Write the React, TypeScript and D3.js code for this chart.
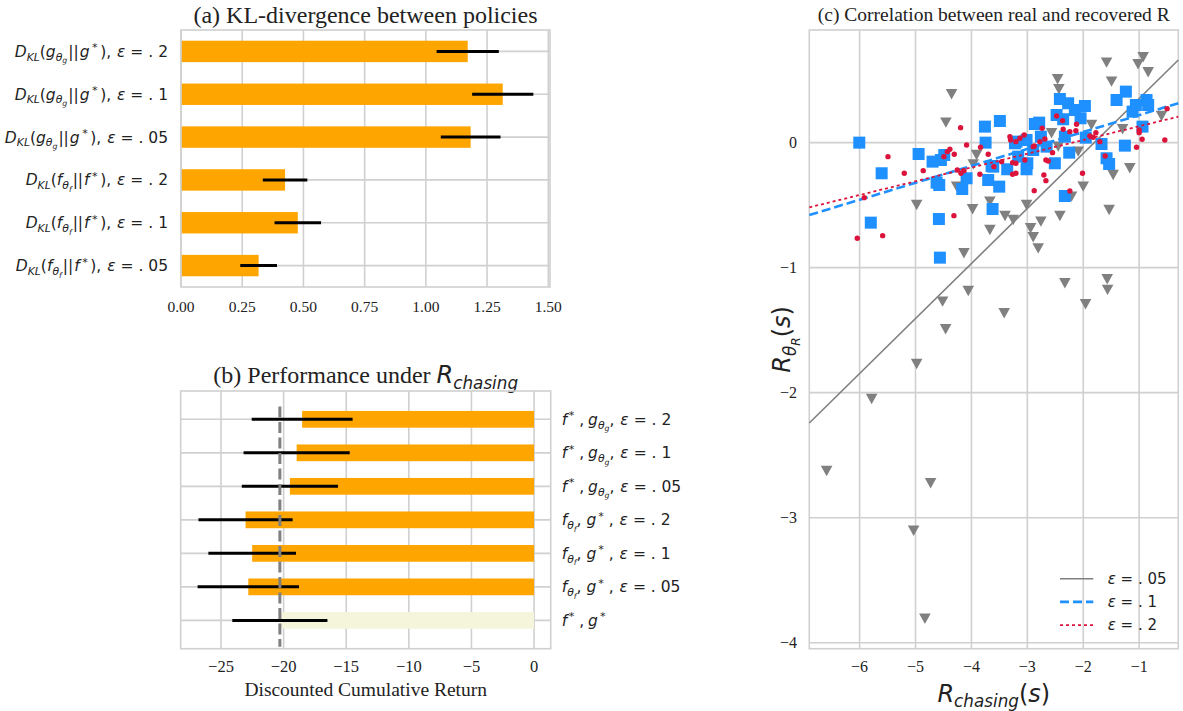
import React from 'react';
import * as d3 from 'd3';

type Seg = [string, number, boolean?, number?]; // text, level (0 base, -1 sub, -2 subsub, 1 sup), italic, dx

const SERIF = '"Liberation Serif", "Times New Roman", serif';
const SANS = '"DejaVu Sans", sans-serif';
const INK = '#222';
const GRID = '#d0d0d0';

// ---- helpers for mathtext-like labels ----
const eps = (v: string): Seg[] => [['ε', 0, true, 1], [' = . ' + v, 0]];
const dklG = (v: string): Seg[] => [['D', 0, true], ['KL', -1, true], ['(', 0], ['g', 0, true], ['θ', -1, true], ['g', -2, true], ['||', 0, false, 1], ['g', 0, true, 1], ['*', 1, false, 2.5], [')', 0, false, 2.5], [', ', 0], ...eps(v)];
const dklF = (v: string): Seg[] => [['D', 0, true], ['KL', -1, true], ['(', 0], ['f', 0, true], ['θ', -1, true], ['f', -2, true], ['||', 0, false, 1], ['f', 0, true, 1], ['*', 1, false, 2.5], [')', 0, false, 2.5], [', ', 0], ...eps(v)];
const fStarGTheta = (v: string): Seg[] => [['f', 0, true], ['*', 1, false, 1.5], [' ,', 0], ['g', 0, true, 4], ['θ', -1, true], ['g', -2, true], [', ', 0], ...eps(v)];
const fThetaGStar = (v: string): Seg[] => [['f', 0, true], ['θ', -1, true], ['f', -2, true], [', ', 0], ['g', 0, true], ['*', 1, false, 2], [' , ', 0], ...eps(v)];

// ---- (a) KL-divergence data ----
const klLabels: Seg[][] = [dklG('2'), dklG('1'), dklG('05'), dklF('2'), dklF('1'), dklF('05')];
const klMeans = [1.171, 1.314, 1.183, 0.425, 0.477, 0.317];
const klErrors = [0.127, 0.125, 0.122, 0.091, 0.095, 0.075];
const klTicks = [0, 0.25, 0.5, 0.75, 1.0, 1.25, 1.5];

// ---- (b) performance data ----
const perfLabels: Seg[][] = [
  fStarGTheta('2'), fStarGTheta('1'), fStarGTheta('05'),
  fThetaGStar('2'), fThetaGStar('1'), fThetaGStar('05'),
  [['f', 0, true], ['*', 1, false, 1.5], [' ,', 0], ['g', 0, true, 4], ['*', 1, false, 2]],
];
const perfMeans = [-18.52, -18.96, -19.5, -23.04, -22.51, -22.82, -20.3];
const perfErrors = [4.03, 4.24, 3.84, 3.76, 3.5, 4.05, 3.8];
const perfColors = ['orange', 'orange', 'orange', 'orange', 'orange', 'orange', '#f5f5dc'];
const perfTicks = [-25, -20, -15, -10, -5, 0];

// ---- (c) scatter data ----
const eps05Points: [number, number][] = [
  [-4.355, 0.387], [-4.457, 0.16], [-2.459, 0.507], [-2.436, 0.427], [-1.583, 0.64], [-1.494, 0.488],
  [-0.929, 0.683], [-1.02, 0.627], [-0.839, 0.563], [-0.6, 0.213], [-2.567, 0.075], [-3.908, -0.099],
  [-3.967, -0.174], [-1.852, 0.141], [-1.297, 0.107], [-2.448, -0.032], [-2.09, -0.072], [-1.465, -0.259],
  [-1.167, -0.205], [-4.98, -0.499], [-4.265, -0.352], [-3.98, -0.533], [-3.67, -0.472], [-3.67, -0.699],
  [-3.4, -0.587], [-3.253, -0.619], [-3.014, -0.499], [-2.942, -0.685], [-2.895, -0.757], [-2.806, -0.846],
  [-2.758, -0.632], [-2.418, -0.587], [-2.209, -0.432], [-2.001, -0.352], [-1.537, -0.539], [-4.134, -0.885],
  [-4.057, -1.187], [-4.516, -1.272], [-4.462, -1.493], [-3.414, -1.365], [-2.329, -1.125], [-1.959, -1.293],
  [-1.572, -1.093], [-1.565, -1.178], [-4.98, -1.771], [-5.785, -2.051], [-6.59, -2.627], [-4.73, -2.725],
  [-5.034, -3.104], [-4.832, -3.808],
];
const eps1Points: [number, number][] = [
  [-6.006, 0.0], [-5.606, -0.245], [-5.8, -0.64], [-4.945, -0.091], [-4.695, -0.152], [-4.546, -0.139],
  [-4.486, -0.099], [-4.623, -0.32], [-4.576, -0.339], [-4.582, -0.611], [-4.564, -0.92], [-4.164, -0.371],
  [-4.087, -0.285], [-3.759, 0.128], [-3.747, 0.0], [-3.7, -0.299], [-3.64, -0.187], [-3.622, -0.531],
  [-3.503, -0.352], [-3.491, 0.173], [-3.36, -0.213], [-3.222, -0.005], [-3.014, 0.021], [-3.014, -0.213],
  [-3.0, -0.165], [-2.865, 0.149], [-2.788, 0.16], [-2.758, 0.048], [-2.656, -0.032], [-2.895, -0.059],
  [-3.163, -0.112], [-3.192, 0.008], [-2.508, -0.165], [-2.477, 0.221], [-2.418, 0.349], [-2.27, 0.315],
  [-2.15, 0.261], [-2.048, 0.195], [-1.971, 0.293], [-2.359, 0.187], [-2.329, 0.048], [-2.251, -0.08],
  [-1.955, 0.04], [-1.673, -0.011], [-1.583, -0.125], [-1.537, -0.171], [-1.404, 0.341], [-1.238, 0.408],
  [-1.118, 0.248], [-1.059, 0.301], [-0.868, 0.341], [-0.839, 0.301], [-0.94, 0.128], [-1.256, -0.024],
  [-2.329, -0.427], [-3.61, -0.192],
];
const eps2Points: [number, number][] = [
  [-5.493, -0.112], [-5.201, -0.245], [-4.862, -0.224], [-5.917, -0.44], [-6.042, -0.765], [-5.588, -0.744],
  [-4.313, -0.584], [-4.194, 0.12], [-4.087, -0.019], [-3.837, -0.037], [-3.7, -0.093], [-3.598, -0.192],
  [-3.849, -0.253], [-4.492, -0.112], [-4.432, -0.072], [-4.385, -0.053], [-4.307, -0.093], [-4.253, -0.219],
  [-4.188, -0.245], [-4.134, -0.224], [-2.477, 0.213], [-2.37, 0.176], [-2.12, 0.147], [-2.359, 0.107],
  [-2.24, 0.088], [-2.132, 0.096], [-2.735, 0.115], [-2.686, 0.029], [-2.776, 0.008], [-2.895, -0.032],
  [-3.056, 0.061], [-3.133, 0.035], [-3.205, 0.008], [-3.312, 0.048], [-3.3, 0.021], [-3.46, -0.152],
  [-3.264, -0.16], [-3.205, -0.165], [-3.264, -0.253], [-3.205, -0.245], [-3.044, -0.139], [-2.877, -0.384],
  [-2.704, -0.259], [-2.668, -0.304], [-2.668, -0.139], [-2.627, -0.147], [-2.549, -0.08], [-2.877, -0.027],
  [-2.24, -0.387], [-2.013, -0.245], [-1.882, 0.053], [-1.822, 0.043], [-1.774, 0.08], [-1.703, 0.008],
  [-1.608, -0.107], [-1.047, -0.037], [-1.0, 0.101], [-1.0, 0.08], [-0.947, 0.027], [-0.541, 0.021],
  [-0.5, 0.272],
];
const fitSlopes = [0.44, 0.1355, 0.11];
const fitIntercepts = [0.793, 0.356, 0.241];
const legendLabels = ['05', '1', '2'];
const scatterXTicks = [-6, -5, -4, -3, -2, -1];
const scatterYTicks = [0, -1, -2, -3, -4];

const LEVEL_OFF: Record<number, number> = { 0: 0, [-1]: 0.24, [-2]: 0.42, 1: -0.36 };
const LEVEL_SIZE: Record<number, number> = { 0: 1, [-1]: 0.7, [-2]: 0.5, 1: 0.72 };

function MathText({ segs, x, y, size, anchor = 'start', transform }: any) {
  let cur = 0;
  return (
    <text x={x} y={y} fontSize={size} textAnchor={anchor} fontFamily={SANS} fill={INK}
      transform={transform} style={{ whiteSpace: 'pre' }}>
      {segs.map(([t, lv, it, dx]: Seg, i: number) => {
        const off = LEVEL_OFF[lv] * size;
        const dy = off - cur;
        cur = off;
        return (
          <tspan key={i} dx={dx || 0} dy={dy} fontSize={size * LEVEL_SIZE[lv]} fontStyle={it ? 'italic' : 'normal'}>{t}</tspan>
        );
      })}
    </text>
  );
}

const fmtMinus = (v: number, f: (n: number) => string) => (v < 0 ? '\u2212' + f(-v) : f(v));

function PanelA() {
  const x = d3.scaleLinear().domain([0, 1.507]).range([181, 550]);
  const y = d3.scaleLinear().domain([-0.5, 5.5]).range([30, 287]);
  const [x0, x1] = x.range();
  const [y0, y1] = y.range();
  const bh = y(0.25) - y(-0.25);
  return (
    <g>
      <text x={(x0 + x1) / 2} y={23} textAnchor="middle" fontFamily={SERIF} fontSize={24} fill={INK}>
        (a) KL-divergence between policies
      </text>
      {klTicks.map(t => <line key={t} x1={x(t)} x2={x(t)} y1={y0} y2={y1} stroke={GRID} strokeWidth={1.6} />)}
      {klMeans.map((_, i) => <line key={i} x1={x0} x2={x1} y1={y(i)} y2={y(i)} stroke={GRID} strokeWidth={1.6} />)}
      {klMeans.map((m, i) => <rect key={i} x={x(0)} y={y(i) - bh / 2} width={x(m) - x(0)} height={bh} fill="orange" />)}
      {klMeans.map((m, i) => (
        <line key={i} x1={x(m - klErrors[i])} x2={x(m + klErrors[i])} y1={y(i)} y2={y(i)} stroke="#000" strokeWidth={3} />
      ))}
      <rect x={x0} y={y0} width={x1 - x0} height={y1 - y0} fill="none" stroke={GRID} strokeWidth={1.6} />
      {klTicks.map(t => (
        <text key={t} x={x(t)} y={311.5} textAnchor="middle" fontFamily={SERIF} fontSize={15.5} fill={INK}>{d3.format('.2f')(t)}</text>
      ))}
      {klLabels.map((segs, i) => <MathText key={i} segs={segs} x={168} y={y(i) + 5.5} size={15.5} anchor="end" />)}
    </g>
  );
}

function PanelB() {
  const x = d3.scaleLinear().domain([-28.22, 1.33]).range([180.7, 550.7]);
  const y = d3.scaleLinear().domain([-0.845, 6.845]).range([391, 648.7]);
  const [x0, x1] = x.range();
  const [y0, y1] = y.range();
  const bh = y(0.25) - y(-0.25);
  const ref = perfMeans[perfMeans.length - 1];
  return (
    <g>
      <text x={(x0 + x1) / 2} y={383} textAnchor="middle" fontSize={24} fill={INK} style={{ whiteSpace: 'pre' }}>
        <tspan fontFamily={SERIF}>(b) Performance under </tspan>
        <tspan fontFamily={SANS} fontStyle="italic">R</tspan>
        <tspan fontFamily={SANS} fontStyle="italic" fontSize={16.8} dy={5.5}>chasing</tspan>
      </text>
      {perfTicks.map(t => <line key={t} x1={x(t)} x2={x(t)} y1={y0} y2={y1} stroke={GRID} strokeWidth={1.6} />)}
      {perfMeans.map((_, i) => <line key={i} x1={x0} x2={x1} y1={y(i)} y2={y(i)} stroke={GRID} strokeWidth={1.6} />)}
      {perfMeans.map((m, i) => (
        <rect key={i} x={x(m)} y={y(i) - bh / 2} width={x(0) - x(m)} height={bh} fill={perfColors[i]} />
      ))}
      {perfMeans.map((m, i) => (
        <line key={i} x1={x(m - perfErrors[i])} x2={x(m + perfErrors[i])} y1={y(i)} y2={y(i)} stroke="#000" strokeWidth={3} />
      ))}
      <line x1={x(ref)} x2={x(ref)} y1={y(-0.38)} y2={y(6.79)} stroke="#808080" strokeWidth={3} strokeDasharray="11,4.5" />
      <rect x={x0} y={y0} width={x1 - x0} height={y1 - y0} fill="none" stroke={GRID} strokeWidth={1.6} />
      {perfTicks.map(t => (
        <text key={t} x={x(t)} y={671.7} textAnchor="middle" fontFamily={SERIF} fontSize={16.5} fill={INK}>
          {fmtMinus(t, d3.format('d'))}
        </text>
      ))}
      <text x={(x0 + x1) / 2} y={696} textAnchor="middle" fontFamily={SERIF} fontSize={19.5} fill={INK}>
        Discounted Cumulative Return
      </text>
      {perfLabels.map((segs, i) => <MathText key={i} segs={segs} x={561.7} y={y(i) + 5.5} size={15.5} />)}
    </g>
  );
}

function PanelC() {
  const x = d3.scaleLinear().domain([-6.9, -0.3]).range([809.3, 1178.3]);
  const y = d3.scaleLinear().domain([-4.048, 0.901]).range([648.7, 30]);
  const [x0, x1] = x.range();
  const [y1, y0] = y.range();
  const tri = ([a, b]: [number, number]) => {
    const cx = x(a), cy = y(b);
    return `M${cx - 5.8},${cy - 5.2}L${cx + 5.8},${cy - 5.2}L${cx},${cy + 5.2}Z`;
  };
  const fitLine = (k: number) => {
    const [d0, d1] = x.domain();
    return d3.line<number>().x(v => x(v)).y(v => y(fitSlopes[k] * v + fitIntercepts[k]))([d0, d1]) as string;
  };
  const lineStyles = [
    { stroke: '#808080', width: 1.6, dash: undefined },
    { stroke: '#1e90ff', width: 2.6, dash: '9,4' },
    { stroke: '#dc143c', width: 1.8, dash: '3,3' },
  ];
  return (
    <g>
      <text x={(x0 + x1) / 2} y={21} textAnchor="middle" fontFamily={SERIF} fontSize={19.5} fill={INK}>
        (c) Correlation between real and recovered R
      </text>
      {scatterXTicks.map(t => <line key={t} x1={x(t)} x2={x(t)} y1={y0} y2={y1} stroke={GRID} strokeWidth={1.6} />)}
      {scatterYTicks.map(t => <line key={t} x1={x0} x2={x1} y1={y(t)} y2={y(t)} stroke={GRID} strokeWidth={1.6} />)}
      <rect x={x0} y={y0} width={x1 - x0} height={y1 - y0} fill="none" stroke={GRID} strokeWidth={1.6} />
      {eps05Points.map((p, i) => <path key={i} d={tri(p)} fill="#808080" />)}
      <path d={fitLine(0)} fill="none" stroke={lineStyles[0].stroke} strokeWidth={lineStyles[0].width} />
      {eps1Points.map(([a, b], i) => <rect key={i} x={x(a) - 6} y={y(b) - 6} width={12} height={12} fill="#1e90ff" />)}
      <path d={fitLine(1)} fill="none" stroke={lineStyles[1].stroke} strokeWidth={lineStyles[1].width} strokeDasharray={lineStyles[1].dash} />
      {eps2Points.map(([a, b], i) => <circle key={i} cx={x(a)} cy={y(b)} r={2.7} fill="#dc143c" />)}
      <path d={fitLine(2)} fill="none" stroke={lineStyles[2].stroke} strokeWidth={lineStyles[2].width} strokeDasharray={lineStyles[2].dash} />
      {scatterXTicks.map(t => (
        <text key={t} x={x(t)} y={672.3} textAnchor="middle" fontFamily={SERIF} fontSize={16} fill={INK}>{fmtMinus(t, d3.format('d'))}</text>
      ))}
      {scatterYTicks.map(t => (
        <text key={t} x={797} y={y(t) + 5.6} textAnchor="end" fontFamily={SERIF} fontSize={16} fill={INK}>{fmtMinus(t, d3.format('d'))}</text>
      ))}
      <MathText segs={[['R', 0, true], ['chasing', -1, true], ['(', 0], ['s', 0, true], [')', 0]]} x={(x0 + x1) / 2} y={701.7} size={24} anchor="middle" />
      <MathText segs={[['R', 0, true], ['θ', -1, true], ['R', -2, true], ['(', 0], ['s', 0, true], [')', 0]]}
        x={0} y={0} size={24} anchor="middle" transform={`translate(790,${(y0 + y1) / 2}) rotate(-90)`} />
      {legendLabels.map((l, i) => {
        const cy = 578.7 + i * 23.2;
        const s = lineStyles[i];
        return (
          <g key={l}>
            <line x1={1060} x2={1093.3} y1={cy} y2={cy} stroke={s.stroke} strokeWidth={s.width} strokeDasharray={s.dash} />
            <MathText segs={eps(l)} x={1106.7} y={cy + 5.3} size={15} />
          </g>
        );
      })}
    </g>
  );
}

export default function App() {
  return (
    <svg width={1183} height={711} style={{ position: 'absolute', left: 0, top: 0, background: '#fff' }}>
      <rect width={1183} height={711} fill="#fff" />
      <PanelA />
      <PanelB />
      <PanelC />
    </svg>
  );
}
